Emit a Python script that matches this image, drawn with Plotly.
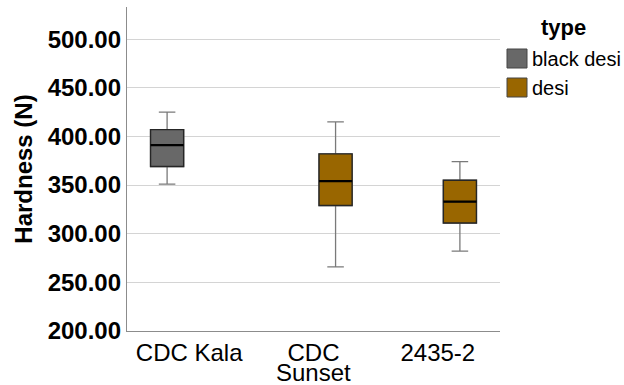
import plotly.graph_objects as go

# Box summary statistics (N) per cultivar, split by seed type
categories = ["CDC Kala", "CDC Sunset", "2435-2"]
# first line of each category label sits on the axis; a second line is added below
tick_first = ["CDC Kala", "CDC", "2435-2"]
tick_second = {"CDC Sunset": "Sunset"}

black_x = ["CDC Kala"]
black_low = [351]
black_q1 = [369]
black_med = [391]
black_q3 = [407]
black_high = [425]

desi_x = ["CDC Sunset", "2435-2"]
desi_low = [266, 282]
desi_q1 = [329, 311]
desi_med = [354, 333]
desi_q3 = [382, 355]
desi_high = [415, 374]

type_names = ["black desi", "desi"]
type_colors = {"black desi": "#686868", "desi": "#996600"}

W, H = 624, 385
M = dict(l=127, r=124, t=7, b=54)
FONT = "Liberation Sans, Arial, sans-serif"

fig = go.Figure()

series = [
    ("black desi", black_x, black_low, black_q1, black_med, black_q3, black_high),
    ("desi", desi_x, desi_low, desi_q1, desi_med, desi_q3, desi_high),
]

# whiskers (grey) from full boxes
for name, x, lo, q1, med, q3, hi in series:
    fig.add_trace(go.Box(
        x=x, q1=q1, median=med, q3=q3, lowerfence=lo, upperfence=hi,
        name=name, offsetgroup=name, showlegend=False,
        fillcolor=type_colors[name], line=dict(color="#7a7a7a", width=1.3),
        whiskerwidth=0.5, boxpoints=False, hoverinfo="skip",
    ))
# boxes with dark outline on top
for name, x, lo, q1, med, q3, hi in series:
    fig.add_trace(go.Box(
        x=x, q1=q1, median=med, q3=q3, lowerfence=q1, upperfence=q3,
        name=name, offsetgroup=name, showlegend=False,
        fillcolor=type_colors[name], line=dict(color="#262626", width=1.4),
        whiskerwidth=0, boxpoints=False,
    ))
# heavier median bar
for name, x, lo, q1, med, q3, hi in series:
    fig.add_trace(go.Box(
        x=x, q1=med, median=med, q3=med, lowerfence=med, upperfence=med,
        name=name, offsetgroup=name, showlegend=False,
        fillcolor="rgba(0,0,0,0)", line=dict(color="#000000", width=2.2),
        whiskerwidth=0, boxpoints=False, hoverinfo="skip",
    ))

fig.update_layout(
    width=W, height=H, margin=M,
    paper_bgcolor="white", plot_bgcolor="white",
    boxmode="group", boxgap=0.29, boxgroupgap=0.25,
    font=dict(family=FONT, color="black"),
    showlegend=False,
)
fig.update_xaxes(
    type="category", categoryorder="array", categoryarray=categories,
    tickvals=categories, ticktext=tick_first,
    tickfont=dict(size=24), showgrid=False, automargin=False,
    showline=True, linecolor="#8c8c8c", linewidth=1.3, ticks="",
    range=[-0.5, 2.5],
)
fig.update_yaxes(
    range=[200, 533], tickvals=[200, 250, 300, 350, 400, 450, 500],
    tickformat=".2f", tickfont=dict(size=24, family=FONT, weight="bold"),
    showgrid=True, gridcolor="#d4d4d4", gridwidth=1.3, automargin=False,
    showline=True, linecolor="#8c8c8c", linewidth=1.3, ticks="",
    zeroline=False,
    title=dict(text="Hardness (N)", font=dict(size=24, weight="bold"), standoff=8),
)

pw = W - M["l"] - M["r"]
ph = H - M["t"] - M["b"]

def px_x(v):
    return (v - M["l"]) / pw

def px_y(v):
    return (H - M["b"] - v) / ph

# second line of wrapped category labels
for cat, text in tick_second.items():
    fig.add_annotation(text=text, xref="x", yref="paper", x=cat, y=px_y(373),
                       showarrow=False, xanchor="center", yanchor="middle",
                       font=dict(size=24))

# legend drawn in pixel positions right of the plot area
fig.add_annotation(text="<b>type</b>", xref="paper", yref="paper",
                   x=px_x(563), y=px_y(28), showarrow=False,
                   xanchor="center", yanchor="middle", font=dict(size=22))
for i, name in enumerate(type_names):
    top = 49 + i * 29
    fig.add_shape(type="rect", xref="paper", yref="paper",
                  x0=px_x(507), x1=px_x(527), y0=px_y(top + 19), y1=px_y(top),
                  fillcolor=type_colors[name], line=dict(color="#444444", width=1))
    fig.add_annotation(text=name, xref="paper", yref="paper",
                       x=px_x(530), y=px_y(top + 10), showarrow=False,
                       xanchor="left", yanchor="middle", font=dict(size=20))

fig.write_html("out.html")
